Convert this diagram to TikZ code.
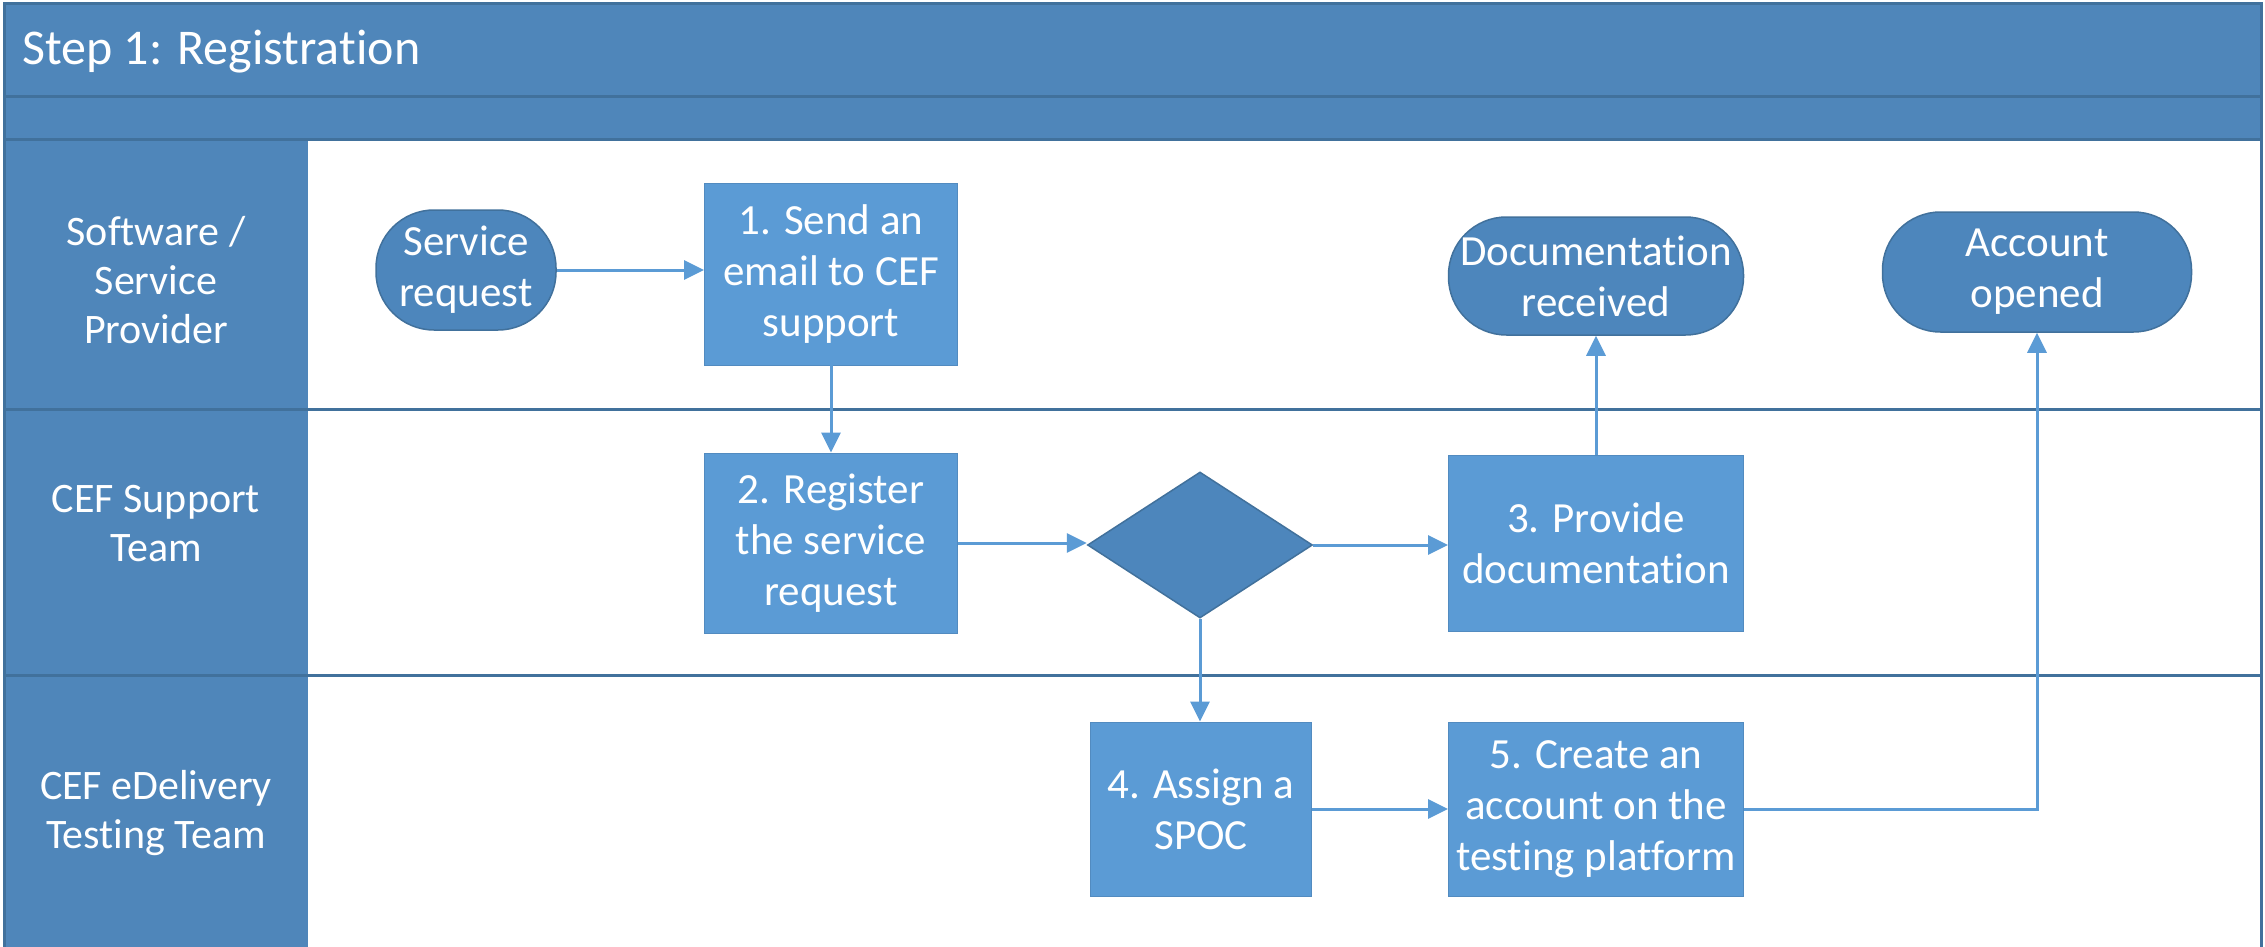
\documentclass[tikz,border=0pt]{standalone}
\usepackage{fontspec}
\setmainfont{Carlito}[Ligatures=NoCommon]
\usetikzlibrary{arrows.meta,shapes.geometric}
\definecolor{laneblue}{HTML}{4F86BA}
\definecolor{boxblue}{HTML}{5B9BD5}
\definecolor{termblue}{HTML}{4D86BC}
\definecolor{framecol}{HTML}{41719C}
\definecolor{linecol}{HTML}{5B9BD5}
\tikzset{
  frameline/.style={draw=framecol, line width=3pt},
  txt/.style={text=white, font=\fontsize{43}{51}\selectfont, align=center, inner sep=0pt},
  procbox/.style={txt, rectangle, fill=boxblue, draw=boxblue!90!black, line width=0.8pt, minimum width=253pt, minimum height=180pt},
  termbox/.style={txt, rectangle, rounded corners=58pt, fill=termblue, draw=framecol, line width=1.5pt, minimum height=120pt},
  decbox/.style={diamond, fill=termblue, draw=framecol, line width=1.5pt, minimum width=225pt, minimum height=146pt, inner sep=0pt},
  lanelabel/.style={text=white, font=\fontsize{42}{49}\selectfont, align=center, inner sep=0pt},
  conn/.style={draw=linecol, line width=3pt, -{Triangle[length=20pt,width=19pt]}}
}
\begin{document}
\begin{tikzpicture}[x=1pt,y=-1pt]
\useasboundingbox (0,0) rectangle (2265,947);
\fill[white] (0,0) rectangle (2265,947);
% bands
\fill[laneblue] (4,4) rectangle (2261,140);
\fill[laneblue] (4,140) rectangle (308,947);
\draw[frameline] (4,97) -- (2261,97);
\draw[frameline] (4,140) -- (2261,140);
\draw[frameline] (4,409) -- (2261,409);
\draw[frameline] (4,675) -- (2261,675);
\draw[frameline] (4,947) -- (4,4) -- (2261,4) -- (2261,947);
% titles
\node[text=white, font=\fontsize{50}{58}\selectfont, anchor=west, inner sep=0pt] (title) at (22,52) {Step 1: Registration};
\node[lanelabel] (l1) at (156,280) {Software /\\Service\\Provider};
\node[lanelabel] (l2) at (156,524) {CEF Support\\Team};
\node[lanelabel] (l3) at (156,813) {CEF eDelivery\\Testing Team};
% nodes
\node[termbox, minimum width=180pt] (sr) at (466,270) {Service\\request};
\node[procbox, minimum height=182pt] (b1) at (831,274) {1. Send an\\email to CEF\\support};
\node[termbox, minimum width=295pt, minimum height=118pt] (dr) at (1596,276) {Documentation\\received};
\node[termbox, minimum width=309pt] (ao) at (2037,272) {Account\\opened};
\node[procbox] (b2) at (831,543) {2. Register\\the service\\request};
\node[decbox] (dia) at (1200,545) {};
\node[procbox, minimum width=295pt, minimum height=176pt] (b3) at (1596,543) {3. Provide\\documentation};
\node[procbox, minimum width=221pt, minimum height=174pt] (b4) at (1201,809) {4. Assign a\\SPOC};
\node[procbox, minimum width=295pt, minimum height=174pt] (b5) at (1596,809) {5. Create an\\account on the\\testing platform};
% connectors
\draw[conn] (sr.east) -- (sr.east -| b1.west);
\draw[conn] (b1) -- (b2);
\draw[conn] (b2.east) -- (b2.east -| dia.west);
\draw[conn] (dia.east) -- (dia.east -| b3.west);
\draw[conn] (b3) -- (dr);
\draw[conn] (dia.south) -- (dia.south |- b4.north);
\draw[conn] (b4) -- (b5);
\draw[conn] (b5.east) -| (ao.south);
\end{tikzpicture}
\end{document}
